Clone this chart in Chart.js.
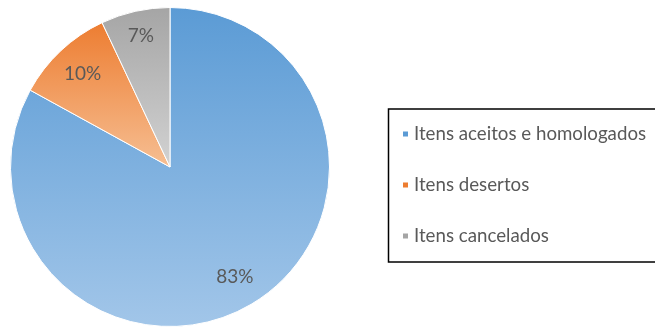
<!DOCTYPE html>
<html>
<head>
<meta charset="utf-8">
<script src="https://cdn.jsdelivr.net/npm/chart.js@4.4.1/dist/chart.umd.min.js"></script>
<style>
  html, body { margin: 0; padding: 0; background: #fff; }
  #chart { display: block; }
</style>
</head>
<body>
<canvas id="chart" width="655" height="327"></canvas>
<script>
const labels = ["Itens aceitos e homologados", "Itens desertos", "Itens cancelados"];
const values = [83, 10, 7];
const topColors = ["#5B9BD5", "#ED7D31", "#A5A5A5"];
const bottomColors = ["#A2C6E9", "#F6BE92", "#D2D2D2"];

// vertical extent of one slice, used for the per-slice gradient
function sliceExtent(chart, index)
{
    const area = chart.chartArea;
    const cx = (area.left + area.right) / 2;
    const cy = (area.top + area.bottom) / 2;
    const r = Math.min(area.right - area.left, area.bottom - area.top) / 2;
    const total = values.reduce((a, b) => a + b, 0);
    let before = 0;
    for (let i = 0; i < index; i++) before += values[i];
    const a0 = -Math.PI / 2 + before / total * 2 * Math.PI;
    const a1 = a0 + values[index] / total * 2 * Math.PI;
    let ys = [cy, cy + r * Math.sin(a0), cy + r * Math.sin(a1)];
    [-Math.PI / 2, Math.PI / 2, 3 * Math.PI / 2].forEach((a) => {
        if (a >= a0 && a <= a1) ys.push(cy + r * Math.sin(a));
    });
    return [Math.min(...ys), Math.max(...ys)];
}

function sliceColor(context)
{
    const chart = context.chart;
    if (!chart.chartArea) return topColors[context.dataIndex];
    const ext = sliceExtent(chart, context.dataIndex);
    const g = chart.ctx.createLinearGradient(0, ext[0], 0, ext[1]);
    g.addColorStop(0, topColors[context.dataIndex]);
    g.addColorStop(1, bottomColors[context.dataIndex]);
    return g;
}

const percentLabels = {
    id: 'percentLabels',
    afterDatasetsDraw(chart) {
        const ctx = chart.ctx;
        const meta = chart.getDatasetMeta(0);
        ctx.save();
        ctx.font = '19px Lato';
        ctx.fillStyle = '#595959';
        ctx.textAlign = 'center';
        ctx.textBaseline = 'middle';
        meta.data.forEach((arc, i) => {
            const mid = (arc.startAngle + arc.endAngle) / 2;
            const rr = arc.outerRadius * (i === 2 ? 0.84 : 0.8);
            ctx.fillText(values[i] + '%', arc.x + Math.cos(mid) * rr, arc.y + Math.sin(mid) * rr);
        });
        ctx.restore();
    }
};

const boxLegend = {
    id: 'boxLegend',
    afterDraw(chart) {
        const ctx = chart.ctx;
        ctx.save();
        ctx.strokeStyle = '#000';
        ctx.lineWidth = 1.5;
        ctx.strokeRect(388.5, 109, 280, 153);
        ctx.font = '18.7px Lato';
        ctx.textBaseline = 'middle';
        ctx.textAlign = 'left';
        const rows = [134, 185, 236];
        labels.forEach((label, i) => {
            ctx.fillStyle = topColors[i];
            ctx.fillRect(403, rows[i] - 2.5, 5, 5);
            ctx.fillStyle = '#595959';
            ctx.fillText(label, 414, rows[i]);
        });
        ctx.restore();
    }
};

new Chart(document.getElementById('chart'), {
    type: 'pie',
    data: {
        labels: labels,
        datasets: [{
            data: values,
            backgroundColor: sliceColor,
            borderColor: '#fff',
            borderWidth: 1
        }]
    },
    options: {
        responsive: false,
        animation: false,
        layout: { padding: { left: 10, right: 325, top: 7, bottom: 0 } },
        plugins: {
            legend: { display: false },
            tooltip: { enabled: false }
        }
    },
    plugins: [percentLabels, boxLegend]
});
</script>
</body>
</html>
